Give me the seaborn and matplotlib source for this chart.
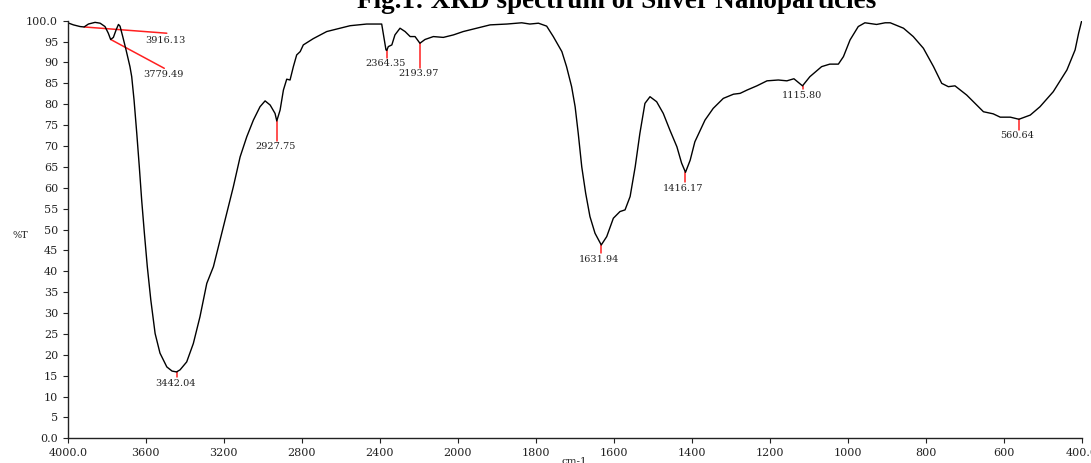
import numpy as np
import pandas as pd
import matplotlib
matplotlib.use("Agg")
import matplotlib.pyplot as plt
import seaborn as sns

# FTIR transmittance spectrum (wavenumber in cm-1, %T)
wavenumber = [
    4000, 3971, 3937, 3916, 3894, 3860, 3834, 3809, 3792, 3780, 3766, 3752,
    3740, 3732, 3718, 3701, 3681, 3672, 3660, 3646, 3633, 3621, 3607, 3592,
    3574, 3552, 3527, 3492, 3465, 3442, 3424, 3390, 3356, 3322, 3287, 3253,
    3219, 3185, 3151, 3116, 3082, 3048, 3014, 2988, 2962, 2937, 2928, 2911,
    2894, 2877, 2860, 2843, 2826, 2808, 2792, 2741, 2672, 2604, 2552, 2467,
    2390, 2382, 2368, 2364, 2356, 2338, 2322, 2296, 2270, 2244, 2219, 2194,
    2168, 2125, 2074, 2022, 1986, 1917, 1874, 1836, 1815, 1793, 1772, 1755,
    1733, 1721, 1708, 1699, 1691, 1682, 1672, 1661, 1648, 1632, 1618, 1601,
    1584, 1571, 1558, 1545, 1533, 1520, 1507, 1490, 1473, 1456, 1438, 1426,
    1416, 1404, 1392, 1366, 1345, 1319, 1293, 1276, 1258, 1233, 1207, 1178,
    1156, 1138, 1116, 1097, 1067, 1046, 1024, 1011, 994, 973, 956, 926,
    904, 891, 857, 832, 806, 780, 759, 742, 725, 695, 669, 652,
    627, 609, 583, 561, 532, 507, 473, 438, 417, 408, 400,
]
transmittance = [
    99.5, 99.0, 98.6, 98.5, 99.2, 99.6, 99.4, 98.6, 97.0, 95.5, 96.0, 97.8,
    99.1, 98.7, 96.2, 93.0, 89.0, 86.6, 81.0, 73.0, 65.0, 57.1, 49.1, 41.1,
    33.1, 25.1, 20.4, 17.1, 16.1, 15.9, 16.4, 18.3, 22.7, 29.1, 37.1, 41.1,
    47.5, 53.9, 60.2, 67.4, 72.2, 76.2, 79.4, 80.8, 79.8, 77.8, 76.0, 78.6,
    83.4, 86.0, 85.8, 89.0, 91.8, 92.6, 94.2, 95.7, 97.4, 98.2, 98.8, 99.2,
    99.2, 97.0, 93.0, 92.9, 93.8, 94.2, 96.6, 98.2, 97.4, 96.2, 96.2, 94.6,
    95.5, 96.2, 96.0, 96.6, 97.4, 99.0, 99.2, 99.5, 99.2, 99.4, 98.7, 96.2,
    92.6, 89.0, 84.2, 79.4, 73.0, 65.0, 58.7, 53.1, 49.1, 46.3, 48.3, 52.7,
    54.3, 54.7, 57.9, 65.0, 73.0, 80.2, 81.8, 80.6, 77.8, 73.8, 69.8, 65.9,
    63.7, 66.6, 71.0, 76.2, 79.0, 81.4, 82.4, 82.6, 83.4, 84.4, 85.6, 85.8,
    85.6, 86.1, 84.4, 86.6, 89.0, 89.6, 89.6, 91.4, 95.4, 98.6, 99.5, 99.1,
    99.5, 99.5, 98.2, 96.2, 93.4, 89.0, 85.0, 84.2, 84.4, 82.2, 79.8, 78.2,
    77.7, 76.9, 76.9, 76.4, 77.4, 79.4, 83.0, 88.2, 93.0, 97.0, 100.0,
]

# Peak labels: text, peak position, %T at peak, leader-line end (wn, %T), label centre (wn, %T)
peak_labels = ["3916.13", "3779.49", "3442.04", "2927.75", "2364.35",
               "2193.97", "1631.94", "1416.17", "1115.80", "560.64"]
peak_wn = [3916.13, 3779.49, 3442.04, 2927.75, 2364.35,
           2193.97, 1631.94, 1416.17, 1115.80, 560.64]
peak_t = [98.5, 95.5, 15.9, 76.0, 93.0, 94.6, 46.3, 63.7, 84.4, 76.4]
leader_end_wn = [3492, 3505, 3442.04, 2927.75, 2364.35,
                 2193.97, 1631.94, 1416.17, 1115.80, 560.64]
leader_end_t = [97.0, 88.6, 14.6, 71.3, 91.1, 88.6, 44.3, 61.4, 83.6, 73.8]
label_wn = [3501, 3511, 3447, 2932, 2370, 2200, 1638, 1421, 1118, 565]
label_t = [95.3, 87.2, 13.2, 69.8, 89.8, 87.4, 42.7, 59.9, 82.0, 72.4]

x_ticks = [4000, 3600, 3200, 2800, 2400, 2000, 1800, 1600, 1400, 1200, 1000, 800, 600, 400]
x_tick_labels = ["4000.0", "3600", "3200", "2800", "2400", "2000", "1800",
                 "1600", "1400", "1200", "1000", "800", "600", "400.0"]
y_ticks = list(range(0, 101, 5))
y_tick_labels = ["0.0"] + [str(v) for v in range(5, 100, 5)] + ["100.0"]

df = pd.DataFrame({"wavenumber": wavenumber, "T": transmittance})

sns.set_style("ticks")
plt.rcParams["font.family"] = ["DejaVu Serif"]

fig = plt.figure(figsize=(10.91, 4.63), dpi=100)
ax = fig.add_axes([0.0621, 0.0533, 0.9294, 0.902])


# Split abscissa: 4000-2000 cm-1 compressed by a factor of two
def fwd(x):
    x = np.asarray(x, dtype=float)
    return np.where(x > 2000, 2000 + (x - 2000) / 2.0, x)


def inv(t):
    t = np.asarray(t, dtype=float)
    return np.where(t > 2000, 2000 + (t - 2000) * 2.0, t)


ax.set_xscale("function", functions=(fwd, inv))

sns.lineplot(data=df, x="wavenumber", y="T", ax=ax, color="black",
             linewidth=1.0, estimator=None, sort=False, legend=False)

for lab, pw, pt, ew, et, lw_, lt in zip(peak_labels, peak_wn, peak_t,
                                        leader_end_wn, leader_end_t,
                                        label_wn, label_t):
    ax.plot([pw, ew], [pt, et], color="#ff2020", linewidth=1.1, zorder=1)
    ax.text(lw_, lt, lab, ha="center", va="center", fontsize=7,
            color="#222222")

ax.set_xlim(4000, 400)
ax.set_ylim(0, 100)
ax.set_xticks(x_ticks)
ax.set_xticklabels(x_tick_labels)
ax.set_yticks(y_ticks)
ax.set_yticklabels(y_tick_labels)
ax.minorticks_off()
ax.tick_params(axis="both", labelsize=8, length=3.5, width=0.8,
               colors="#222222", pad=3.5)
for side in ["top", "right"]:
    ax.spines[side].set_visible(False)
for side in ["left", "bottom"]:
    ax.spines[side].set_linewidth(1.0)
    ax.spines[side].set_color("#222222")

ax.set_xlabel("")
ax.set_ylabel("")
fig.text(20 / 1091, 1 - 235 / 463, "%T", ha="center", va="center",
         fontsize=7, color="#222222")
fig.text(574.7 / 1091, 1 - 461 / 463, "cm-1", ha="center", va="center",
         fontsize=7.5, color="#222222")

fig.text(617 / 1091, 1 - 7.5 / 463, "Fig.1: XRD spectrum of Silver Nanoparticles",
         ha="center", va="baseline", fontsize=19.5, fontweight="bold",
         family=["Liberation Serif"], color="black")

fig.savefig("out.png", dpi=100)
